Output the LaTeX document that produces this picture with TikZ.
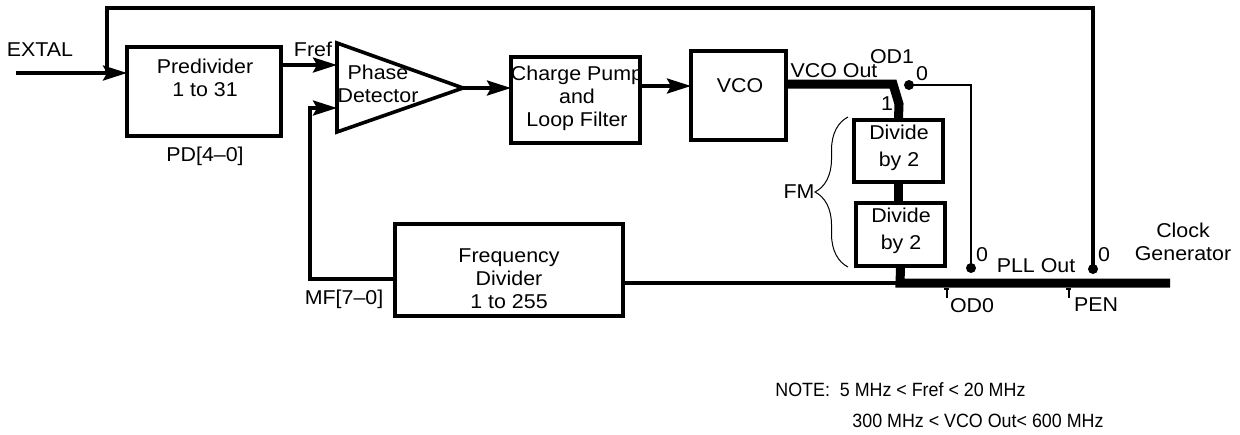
\documentclass[tikz,border=0pt]{standalone}
\usepackage{fontspec}
\setmainfont{Liberation Sans}[FakeStretch=1.07]
\newfontfamily\notefont{Liberation Sans}[FakeStretch=0.93]
\usetikzlibrary{arrows.meta,decorations.pathreplacing}
\begin{document}
\begin{tikzpicture}[x=0.5pt,y=-0.5pt,
  wire/.style={line width=1.7pt},
  thinwire/.style={line width=1.1pt},
  bus/.style={line width=4.5pt},
  arr/.style={wire,-{Stealth[length=12pt,width=7.5pt,inset=2pt]}},
  blk/.style={draw,line width=1.8pt,inner sep=0pt},
  txt/.style={font=\fontsize{10}{11.5}\selectfont,inner sep=0pt,align=center},
  dtxt/.style={font=\fontsize{10}{13.5}\selectfont,inner sep=0pt,align=center},
  ntxt/.style={font=\notefont\fontsize{9.6}{11.5}\selectfont,inner sep=0pt,anchor=west},
  jdot/.style={circle,fill,inner sep=0pt,minimum size=5pt},
  tick/.style={line width=0.6pt}]
\useasboundingbox (0,0) rectangle (1240,434);

% blocks
\node[blk,minimum width=77pt,minimum height=44.5pt] (pre) at (204,91.5) {};
\node[blk,minimum width=64.5pt,minimum height=43pt] (cp) at (575.5,100) {};
\node[blk,minimum width=47.5pt,minimum height=44.5pt] (vco) at (738.5,95.5) {};
\node[blk,minimum width=44.5pt,minimum height=31pt] (div1) at (898.5,151) {};
\node[blk,minimum width=44.5pt,minimum height=31.5pt] (div2) at (900.5,234.5) {};
\node[blk,minimum width=114pt,minimum height=46pt] (fd) at (509,270) {};
\draw[blk] (337,43) coordinate (pdT) -- (337,132) coordinate (pdBot) -- (463,88) coordinate (pdO) -- cycle;

% block texts
\node[txt] (tpre) at (205,78) {Predivider\\1 to 31};
\node[txt] (tpd1) at (378,72) {Phase};
\node[txt] (tpd2) at (378,96) {Detector};
\node[txt] (tcp) at (577,98) {Charge Pump\\and\\Loop Filter};
\node[txt] (tvco) at (740,86) {VCO};
\node[dtxt] (tdiv1) at (899,148) {Divide\\by 2};
\node[dtxt] (tdiv2) at (901,231) {Divide\\by 2};
\node[txt] (tfd) at (509,279) {Frequency\\Divider\\1 to 255};

% coordinates
\coordinate (exS) at (16,73);
\coordinate (exJ) at (107,73);
\coordinate (preIn) at (127,73);
\coordinate (preOut) at (281,65);
\coordinate (pdA) at (337,65);
\coordinate (pdB) at (337,108);
\coordinate (cpIn) at (511,88);
\coordinate (cpOut) at (640,86);
\coordinate (vcoIn) at (691,86);
\coordinate (vcoOut) at (786,84);
\coordinate (sw1) at (893,84);
\coordinate (sw2) at (899,104);
\coordinate (topR) at (1093,8);
\coordinate (od1c) at (971,85);
\coordinate (fdL) at (395,279);
\coordinate (fbC) at (310,108);
\coordinate (fdR) at (623,283);
\coordinate (busJ) at (900,283);
\coordinate (busE) at (1170,283);
\node[jdot] (od1dot) at (909,85) {};
\node[jdot] (od0dot) at (971,268) {};
\node[jdot] (pendot) at (1093,269) {};

% connectors
\draw[arr] (exS) -- (preIn);
\draw[wire] (exJ) |- (topR) -- (pendot.center);
\draw[arr] (preOut) -- (pdA);
\draw[arr] (pdO) -- (cpIn);
\draw[arr] (cpOut) -- (vcoIn);
\draw[arr] (fdL) -| (fbC) -- (pdB);
\draw[wire] (fdR) -- (busJ);
\draw[bus] (vcoOut) -- (sw1) -- (sw2) -- (div1.north);
\draw[bus] (div1.south) -- (div1.south |- div2.north);
\draw[bus] (div2.south) -- (busJ) -- (busE);
\draw[thinwire] (od1dot.center) -- (od1c) -- (od0dot.center);

% ticks
\draw[tick] (944,289) -- (949,289);
\draw[tick] (947,289) -- (947,298);
\draw[tick] (1066,289) -- (1071,289);
\draw[tick] (1069,289) -- (1069,298);

% brace
\draw[line width=0.5pt,decorate,decoration={brace,amplitude=16.5pt}] (848,267) -- (848,117);

% labels
\node[txt] (lext) at (40,50) {EXTAL};
\node[txt] (lpd) at (205,156) {PD[4–0]};
\node[txt] (lfref) at (313,49) {Fref};
\node[txt] (lmf) at (344,299) {MF[7–0]};
\node[txt] (lvco) at (834,71) {VCO Out};
\node[txt] (lod1) at (892,57) {OD1};
\node[txt] (l0a) at (922,74) {0};
\node[txt] (l1) at (887,104) {1};
\node[txt] (lfm) at (799,192) {FM};
\node[txt] (l0b) at (982,255) {0};
\node[txt] (l0c) at (1104,255) {0};
\node[txt] (lpll) at (1036,266) {PLL Out};
\node[txt] (lod0) at (972,306) {OD0};
\node[txt] (lpen) at (1096,305) {PEN};
\node[txt] (lclk) at (1183,242) {Clock\\Generator};
\node[ntxt] (n1) at (775,390) {NOTE:\ \ 5 MHz < Fref < 20 MHz};
\node[ntxt] (n2) at (852,421) {300 MHz < VCO Out< 600 MHz};
\end{tikzpicture}
\end{document}
